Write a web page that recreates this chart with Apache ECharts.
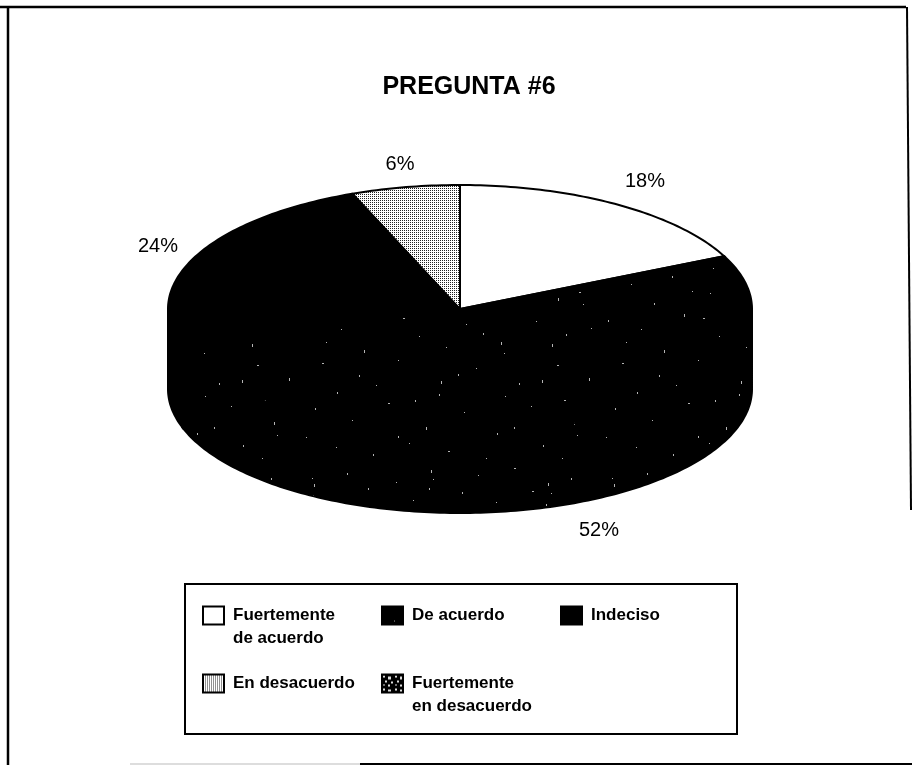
<!DOCTYPE html>
<html>
<head>
<meta charset="utf-8">
<style>html,body{margin:0;padding:0;background:#fff}#c{width:912px;height:765px}</style>
<script src="https://cdn.jsdelivr.net/npm/echarts@6/dist/echarts.min.js"></script>
</head>
<body>
<div id="c"></div>
<script>
var chartTitle = 'PREGUNTA #6';
var categories = ['Fuertemente\nde acuerdo', 'De acuerdo', 'Indeciso', 'En desacuerdo', 'Fuertemente\nen desacuerdo'];
var values = [18, 52, 24, 6, 0];

// Texture tiles for the scanned fills
function tile(w, h, bg, fg, dots) {
  var c = document.createElement('canvas');
  c.width = w; c.height = h;
  var g = c.getContext('2d');
  g.fillStyle = bg; g.fillRect(0, 0, w, h);
  g.fillStyle = fg;
  dots.forEach(function (d) { g.fillRect(d[0], d[1], d[2] || 1, d[3] || 1); });
  return { image: c, repeat: 'repeat' };
}
var gridDots = [];
for (var gx = 0; gx < 4; gx += 2) for (var gy = 0; gy < 4; gy += 2) gridDots.push([gx, gy, 1, 1]);
var specks = [
  [12,14],[14,20,1,3],[13,31],[47,9,1,2],[96,18],[131,6,1,3],[133,15],[129,24,1,2],[178,11],[214,4,2,1],[248,19,1,3],[251,29],[246,40,1,2],
  [31,52],[72,44,1,2],[110,61],[152,49,1,3],[155,59],[187,70,1,2],[222,55],[281,47,1,3],[279,60,2,1],[283,72],
  [8,88,1,2],[41,97],[84,82,1,3],[119,104],[166,92],[201,110,1,3],[204,121],[236,89],[266,102,1,2],
  [22,131,2,1],[59,143,1,2],[98,128],[141,149,1,3],[139,162,1,2],[176,136],[219,151,1,2],[257,133,2,1],[289,146,1,3],
  [15,176,1,2],[52,188],[88,171,2,1],[126,195,1,3],[164,180],[197,201,1,2],[231,174],[274,190,1,3],[277,203],
  [36,215],[73,222,1,2],[109,211],[148,219,2,1],[186,226],[243,213,1,2],
  [68,24,1,2],[113,36],[162,28,1,2],[196,38],[232,27,2,1],[271,14,1,2],[54,71,1,2],[92,59],[171,55,1,2],[258,66,1,3],
  [26,110],[64,118,1,3],[103,86,2,1],[146,115],[183,101,1,2],[252,112,1,3],[291,96],[37,160,1,2],[76,153],[115,168,1,2],
  [158,142,1,2],[205,164],[242,148,1,3],[264,168,2,1],[6,205],[98,204,1,2],[214,195,1,2],[262,226]
];
var heavySpecks = [[1,1,2,2],[6,2,3,3],[3,6,2,2],[9,7,2,2],[1,10,2,1],[6,10,2,2]];
var fills = [
  '#ffffff',
  tile(300, 232, '#000000', '#b4b4b4', specks),
  '#000000',
  tile(4, 4, '#ffffff', '#222222', gridDots),
  tile(12, 13, '#000000', '#dddddd', heavySpecks)
];

// Tilted-disc layout of the pie
var CX = 460, CY = 309, RX = 292, RY = 124, DEPTH = 80;
var total = values.reduce(function (a, b) { return a + b; }, 0);
var starts = values.map(function (v, i) {
  return values.slice(0, i).reduce(function (a, b) { return a + b; }, 0);
});
function pt(deg, dy) {
  var r = deg * Math.PI / 180;
  return [CX + RX * Math.sin(r), CY - RY * Math.cos(r) + (dy || 0)];
}
var labelPos = [[645, 181], [599, 530], [158, 246], [400, 164], null];

function makeRender(idx) {
  return function (params, api) {
    var v = api.value(0);
    if (!v) return { type: 'group', children: [] };
    var a0 = starts[idx] / total * 360, a1 = a0 + v / total * 360;
    var style = api.style();
    var children = [];
    var lo = Math.max(a0, 90), hi = Math.min(a1, 270);
    if (hi > lo) {
      var wall = [], back = [];
      for (var d = lo; d < hi; d += 1) { wall.push(pt(d)); back.unshift(pt(d, DEPTH)); }
      wall.push(pt(hi)); back.unshift(pt(hi, DEPTH));
      children.push({ type: 'polygon', shape: { points: wall.concat(back) }, style: style });
    }
    var top = [[CX, CY]];
    for (var e = a0; e < a1; e += 1) top.push(pt(e));
    top.push(pt(a1));
    children.push({ type: 'polygon', shape: { points: top }, style: style });
    var lp = labelPos[idx];
    children.push({
      type: 'text', x: lp[0], y: lp[1],
      style: { text: v + '%', fill: '#000', font: '20px "Liberation Sans"', align: 'center', verticalAlign: 'middle' }
    });
    return { type: 'group', children: children };
  };
}

var series = categories.map(function (name, i) {
  return {
    type: 'custom',
    name: name,
    coordinateSystem: 'none',
    renderItem: makeRender(i),
    data: [[values[i]]],
    silent: true,
    animation: false,
    itemStyle: { color: fills[i], borderColor: '#000', borderWidth: 2 }
  };
});

var option = {
  animation: false,
  backgroundColor: '#fff',
  title: {
    text: chartTitle, left: 464, top: 70, textAlign: 'center',
    textStyle: { fontFamily: 'Liberation Sans', fontWeight: 'bold', fontSize: 25, color: '#000' }
  },
  legend: {
    left: 185, top: 584, width: 532,
    padding: [0, 3, 19, 17],
    itemGap: 5, itemWidth: 21, itemHeight: 18,
    icon: 'rect', selectedMode: false,
    backgroundColor: 'transparent',
    borderColor: '#000', borderWidth: 2,
    formatter: function (name) {
      var lines = name.split('\n');
      var out = lines.map(function (l) { return '{t|' + l + '}'; });
      if (lines.length > 1) out.unshift('{t| }');
      return out.join('\n');
    },
    textStyle: {
      rich: { t: { fontFamily: 'Liberation Sans', fontWeight: 'bold', fontSize: 17, color: '#000', lineHeight: 23, width: 143, padding: [0, 0, 0, 4] } }
    },
    data: categories
  },
  graphic: [
    { type: 'line', shape: { x1: 0, y1: 7, x2: 906, y2: 7 }, style: { stroke: '#000', lineWidth: 2.5 } },
    { type: 'line', shape: { x1: 8, y1: 7, x2: 8, y2: 765 }, style: { stroke: '#000', lineWidth: 2.5 } },
    { type: 'line', shape: { x1: 907, y1: 7, x2: 911, y2: 510 }, style: { stroke: '#000', lineWidth: 2 } },
    { type: 'line', shape: { x1: 360, y1: 764, x2: 912, y2: 764 }, style: { stroke: '#000', lineWidth: 2 } },
    { type: 'line', shape: { x1: 130, y1: 764, x2: 360, y2: 764 }, style: { stroke: '#bbb', lineWidth: 1 } }
  ],
  series: series
};
var chart = echarts.init(document.getElementById('c'), null, { renderer: 'canvas' });
chart.setOption(option);
</script>
</body>
</html>
